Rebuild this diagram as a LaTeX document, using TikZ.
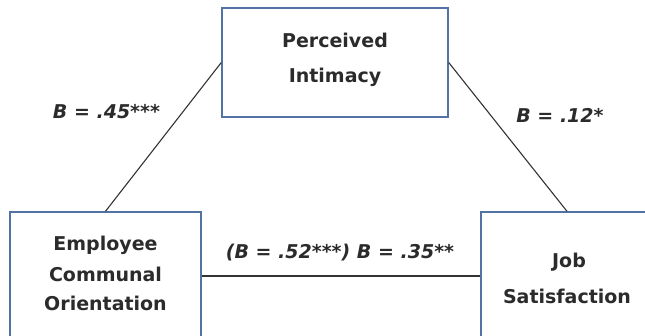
\documentclass[tikz,border=0pt]{standalone}
\usepackage{fontspec}
\setmainfont{DejaVu Sans}
\definecolor{boxblue}{RGB}{84,115,165}
\definecolor{txt}{HTML}{2B2B2B}
\definecolor{ln}{HTML}{333333}
\tikzset{
  box/.style={draw=boxblue, line width=1.4pt, fill=white, rectangle, inner sep=0pt},
  lbl/.style={anchor=base, text=txt, inner sep=0pt, font=\fontsize{19}{22}\selectfont\bfseries},
  coef/.style={anchor=base, text=txt, inner sep=0pt, font=\fontsize{19}{22}\selectfont\bfseries\itshape},
  conn/.style={draw=ln, line width=1.1pt}
}
\begin{document}
\begin{tikzpicture}[x=1pt,y=-1pt]
\useasboundingbox (0,0) rectangle (645,335);
\clip (0,0) rectangle (645,335);
\fill[white] (0,0) rectangle (645,335);
% boxes
\node[box, minimum width=226pt, minimum height=109pt] (PI) at (335,62.5) {};
\node[box, minimum width=191pt, minimum height=128pt] (ECO) at (105.5,276) {};
\node[box, minimum width=172pt, minimum height=128pt] (JS) at (567,276) {};
% connectors
\draw[conn] (ECO.north) -- (PI.west);
\draw[conn] (PI.east) -- (JS.north);
\draw[conn] (ECO.east) -- (JS.west);
% box texts
\node[lbl] (pi1) at (335,47) {Perceived};
\node[lbl] (pi2) at (335,82) {Intimacy};
\node[lbl] (eco1) at (105.5,250) {Employee};
\node[lbl] (eco2) at (105.5,281) {Communal};
\node[lbl] (eco3) at (105.5,310) {Orientation};
\node[lbl] (js1) at (569,267) {Job};
\node[lbl] (js2) at (567,303) {Satisfaction};
% coefficients
\node[coef] (c1) at (106.5,118) {B = .45***};
\node[coef] (c2) at (560,122) {B = .12*};
\node[coef] (c3) at (340,258) {(B = .52***) B = .35**};
\end{tikzpicture}
\end{document}
